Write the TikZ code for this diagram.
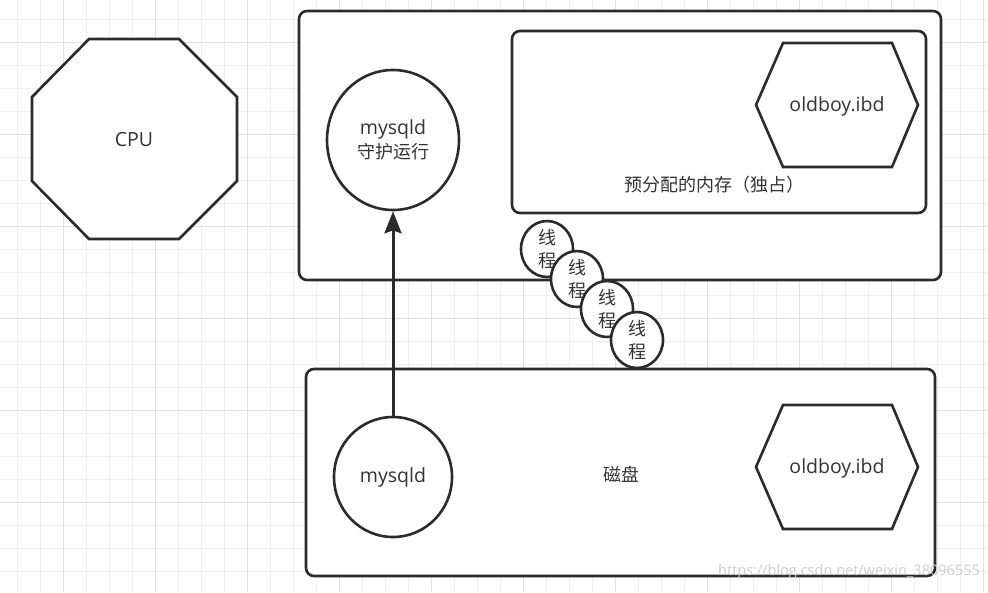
\documentclass[tikz,border=0pt]{standalone}
\usepackage{fontspec}
\setmainfont{Open Sans}
\newfontfamily\cjk{Noto Sans CJK SC}
\usetikzlibrary{shapes.geometric,arrows.meta}
\definecolor{ink}{HTML}{2B2B2B}
\definecolor{txt}{HTML}{333333}
\definecolor{gridminor}{HTML}{EFEFEF}
\definecolor{gridmajor}{HTML}{E0E0E0}
\begin{document}
\begin{tikzpicture}[x=1pt,y=-1pt,
  shapeline/.style={draw=ink, line width=2.6pt, fill=white, line join=miter},
  box/.style={shapeline, rectangle, rounded corners=8pt, inner sep=0pt},
  oval/.style={shapeline, ellipse, inner sep=0pt},
  lbl/.style={text=txt, font=\fontsize{19.5}{24}\selectfont, align=center, inner sep=0pt},
  clbl/.style={text=txt, font=\cjk\fontsize{18}{23}\selectfont, align=center, inner sep=0pt},
  thread/.style={oval, minimum width=52pt, minimum height=48pt, text=txt, font=\cjk\fontsize{18}{23}\selectfont, align=center},
  link/.style={draw=ink, line width=3pt, -{Stealth[length=22pt, width=17pt, inset=3pt]}}
]
\useasboundingbox (0,0) rectangle (988,592);
\fill[white] (0,0) rectangle (988,592);
% grid
\foreach \i in {0,...,42} \draw[gridminor, line width=1pt] ({17.3+23*\i},0) -- ++(0,592);
\foreach \i in {0,...,24} \draw[gridminor, line width=1pt] (0,{19+23*\i}) -- ++(988,0);
\foreach \i in {0,...,10} \draw[gridmajor, line width=1pt] ({63.3+92*\i},0) -- ++(0,592);
\foreach \i in {0,...,5} \draw[gridmajor, line width=1pt] (0,{42.3+92*\i}) -- ++(988,0);

% CPU octagon
\draw[shapeline] (89,39) -- (179,39) -- (237,97) -- (237,181) -- (179,239) -- (89,239) -- (32,181) -- (32,97) -- cycle;
\node[lbl] (cpu) at (134,140) {CPU};

% memory area
\node[box, minimum width=642pt, minimum height=269pt] (mem) at (620,145.5) {};
\node[box, minimum width=414pt, minimum height=182pt] (pool) at (719,122) {};
\node[clbl] (poollbl) at (714,185) {预分配的内存（独占）};
\draw[shapeline] (756,105) -- (783,43) -- (892,43) -- (918,105) -- (892,167) -- (783,167) -- cycle;
\node[lbl] (ibdmem) at (837,106) {oldboy.ibd};
\node[oval, lbl, minimum width=132pt, minimum height=140pt] (daemon) at (393,140) {mysqld\\{\cjk\fontsize{18}{24}\selectfont 守护运行}};

% disk area
\node[box, minimum width=629pt, minimum height=207pt] (disk) at (620.5,472.5) {};
\node[clbl] (disklbl) at (621,474) {磁盘};
\draw[shapeline] (756,467) -- (783,405) -- (892,405) -- (918,467) -- (892,529) -- (783,529) -- cycle;
\node[lbl] (ibddisk) at (837,468) {oldboy.ibd};
\node[oval, lbl, minimum width=118pt, minimum height=120pt] (mysqld) at (393,477) {mysqld};

% arrow
\draw[link] (mysqld.north) -- (daemon.south);

% threads
\node[thread] (t1) at (547,249) {线\\程};
\node[thread] (t2) at (577,279) {线\\程};
\node[thread] (t3) at (607,309) {线\\程};
\node[thread] (t4) at (637,340) {线\\程};

% watermark
\node[text=black!20, font=\fontsize{14.5}{16}\selectfont, anchor=east, inner sep=0pt] (wm) at (980,572) {https://blog.csdn.net/weixin\_38096555};
\end{tikzpicture}
\end{document}
